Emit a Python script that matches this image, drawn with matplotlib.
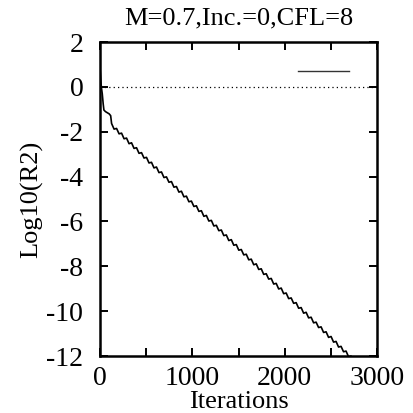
import numpy as np
import matplotlib
matplotlib.use('Agg')
import matplotlib.pyplot as plt
from matplotlib.lines import Line2D
from matplotlib.ticker import MultipleLocator

plt.rcParams['font.family'] = ['Liberation Serif', 'DejaVu Serif']
plt.rcParams['axes.unicode_minus'] = False

# residual history
early_iter = [0, 8, 15, 25, 35, 43, 60, 80, 100, 116]
early_res = [0.9, 0.4, 0.0, -0.3, -0.75, -1.03, -1.1, -1.15, -1.2, -1.28]

late_iter = list(range(126, 2746, 27))
late_res = [-1.63, -1.88, -1.85, -2.09, -2.06, -2.31, -2.28, -2.53, -2.49, -2.74,
            -2.71, -2.96, -2.93, -3.17, -3.14, -3.39, -3.36, -3.61, -3.57, -3.82,
            -3.79, -4.04, -4.01, -4.25, -4.22, -4.47, -4.44, -4.69, -4.65, -4.90,
            -4.87, -5.12, -5.09, -5.33, -5.30, -5.55, -5.52, -5.77, -5.73, -5.98,
            -5.95, -6.20, -6.17, -6.41, -6.38, -6.63, -6.60, -6.85, -6.81, -7.06,
            -7.03, -7.28, -7.25, -7.49, -7.46, -7.71, -7.68, -7.93, -7.89, -8.14,
            -8.11, -8.36, -8.33, -8.57, -8.54, -8.79, -8.76, -9.01, -8.97, -9.22,
            -9.19, -9.44, -9.41, -9.65, -9.62, -9.87, -9.84, -10.09, -10.05, -10.30,
            -10.27, -10.52, -10.49, -10.73, -10.70, -10.95, -10.92, -11.17, -11.13, -11.38,
            -11.35, -11.60, -11.57, -11.81, -11.78, -12.03, -12.00, -12.25]

iters = early_iter + late_iter
res = early_res + late_res

fig = plt.figure(figsize=(4.13, 4.13), dpi=100)
ax = fig.add_axes([0.242, 0.138, 0.671, 0.760])

ax.plot(iters, res, color='black', lw=1.2)
ax.axhline(0, color='black', lw=0.9, ls=(0, (1, 2.5)))

ax.set_xlim(0, 3000)
ax.set_ylim(-12, 2)
ax.xaxis.set_major_locator(MultipleLocator(1000))
ax.xaxis.set_minor_locator(MultipleLocator(500))
ax.yaxis.set_major_locator(MultipleLocator(2))
ax.tick_params(which='both', direction='in', top=True, right=True,
               length=6, width=1.4, labelsize=20)
ax.tick_params(axis='x', pad=7)
ax.tick_params(axis='y', pad=12)
for s in ax.spines.values():
    s.set_linewidth(1.8)

ax.set_title('M=0.7,Inc.=0,CFL=8', fontsize=19, pad=13)
ax.set_xlabel('Iterations', fontsize=19, labelpad=0)
ax.set_ylabel('Log10(R2)', fontsize=19, labelpad=2)

key = Line2D([], [], color='#333333', lw=1.0)
ax.legend(handles=[key], labels=[''], loc='center right', frameon=False,
          bbox_to_anchor=(0.899, 0.904), handlelength=3.7, handletextpad=0,
          borderpad=0, borderaxespad=0, fontsize=10)

fig.savefig('out.png', dpi=100)
